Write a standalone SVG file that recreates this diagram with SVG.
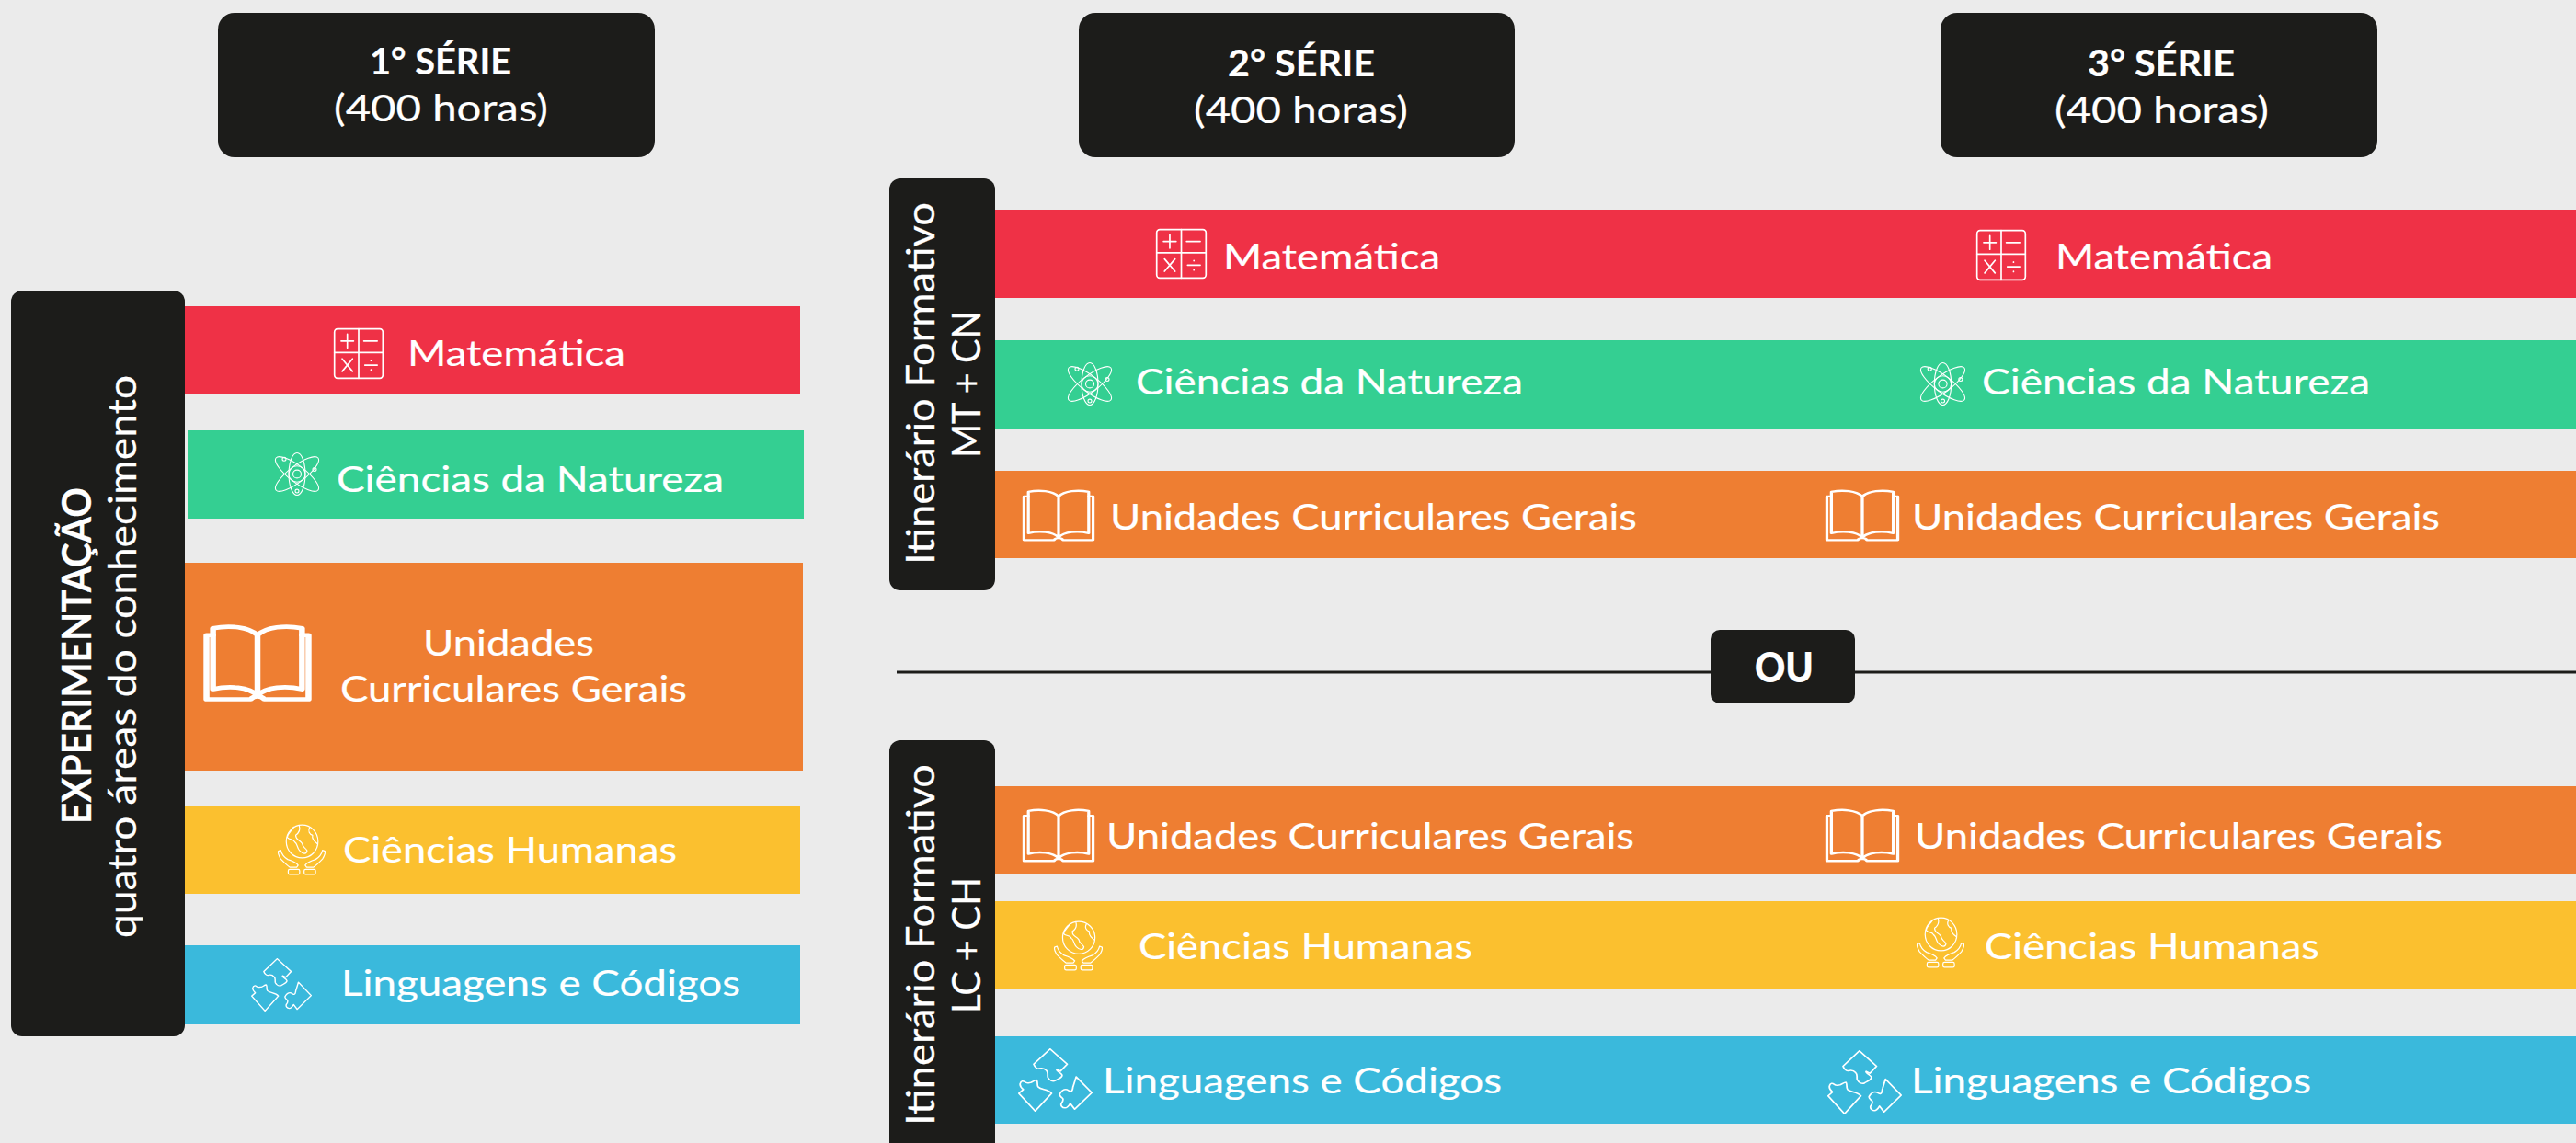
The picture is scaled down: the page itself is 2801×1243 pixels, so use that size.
<svg xmlns="http://www.w3.org/2000/svg" xmlns:xlink="http://www.w3.org/1999/xlink" width="2801" height="1243" viewBox="0 0 2801 1243">
<style>
.bg{fill:#ebebeb}
.dark{fill:#1c1c1a}
.red{fill:#ef3146}.green{fill:#34cf92}.orange{fill:#ee7e32}.yellow{fill:#fbc02f}.blue{fill:#3ab9dc}
text{font-family:"Lato","Noto Sans","Liberation Sans",sans-serif;fill:#fff;font-size:38px;stroke:#fff;stroke-width:.2px}
.hd{font-size:40px}
.b{font-weight:700}
.v{font-size:43px}
.ou{font-size:45px;font-weight:900}
.ic{fill:none;stroke:#fff;stroke-linejoin:round;stroke-linecap:round}
.ic *{vector-effect:non-scaling-stroke}
.s2{stroke-width:2.2px}.s3{stroke-width:3px}.s4{stroke-width:4px}.s6{stroke-width:5.5px}
.sep{stroke:#1c1c1a;stroke-width:3px}
</style>
<defs>
<symbol id="calc" viewBox="0 0 100 100" preserveAspectRatio="none">
<rect x="3" y="3" width="94" height="94" rx="6"/>
<path d="M50 3V97M3 48H97M16 26H40M28 13V39M60 26H86M18 60L38 84M38 60L18 84M62 72H86"/>
<path d="M74 63v.5M74 81v.5"/>
</symbol>
<symbol id="atom" viewBox="0 0 100 100" preserveAspectRatio="none">
<ellipse cx="50" cy="50" rx="18" ry="47"/>
<ellipse cx="50" cy="50" rx="18" ry="58" transform="rotate(52 50 50)"/>
<ellipse cx="50" cy="50" rx="18" ry="58" transform="rotate(-52 50 50)"/>
<circle cx="50" cy="50" r="9"/><circle cx="50" cy="50" r="18"/>
<circle cx="22" cy="17" r="4"/><circle cx="88" cy="40" r="4"/><circle cx="50" cy="88" r="4"/>
</symbol>
<symbol id="book" viewBox="0 0 100 100" preserveAspectRatio="none">
<path d="M50 14C42 3 24 1 9 5V84C24 79 42 81 50 92C58 81 76 79 91 84V5C76 1 58 3 50 14ZM50 14V92"/>
<path d="M9 14H3V97H44C46 92 54 92 56 97H97V14H91"/>
</symbol>
<symbol id="globe" viewBox="0 0 100 100" preserveAspectRatio="none">
<circle cx="51" cy="34" r="32"/>
<path d="M34 6C30 14 22 18 21 26C26 32 34 28 36 35C42 38 40 46 46 52C52 58 60 60 61 52C57 45 52 46 51 38C46 30 38 32 38 22C44 18 48 12 45 3M66 7C62 14 66 20 72 22C70 30 76 34 81 38"/>
<path d="M3 53L8 51C10 60 14 64 22 69C32 72 38 74 43 80L40 84H26C20 80 14 74 8 68C4 62 2 57 3 53ZM97 53L92 51C90 60 86 64 78 69C68 72 62 74 57 80L60 84H74C80 80 86 74 92 68C96 62 98 57 97 53Z"/>
<rect x="23" y="88" width="23" height="10" rx="3"/><rect x="55" y="88" width="23" height="10" rx="3"/>
</symbol>
<symbol id="puzzle" viewBox="0 0 100 100" preserveAspectRatio="none">
<path d="M43 1L66 25L57 36L52 33C50 36 58 38 59 42C60 46 54 48 50 51C46 53 42 50 40 46C39 42 41 38 38 35C35 31 31 31 28 32C25 33 22 28 21 25Z"/>
<path d="M23 99L1 71L7 65C4 62 2 58 3 55C4 51 7 51 9 53C12 56 15 54 17 54C20 53 22 50 25 50C27 54 25 58 27 61C31 66 40 64 45 71Z"/>
<path d="M78 45L99 70L76 96L70 87C68 91 66 94 63 94C59 94 57 90 58 87C60 84 61 81 60 79C57 76 55 74 56 72C58 68 61 65 64 65C67 65 69 68 71 68C74 67 73 62 74 60Z"/>
</symbol>
</defs>
<rect class="bg" width="2801" height="1243"/>
<g id="connectors"><line class="sep" x1="975" y1="731" x2="2801" y2="731"/></g>

<g id="header-1"><rect class="dark" x="237" y="14" width="475" height="157" rx="18"/>
<text class="hd b" x="402" y="81" textLength="154" lengthAdjust="spacingAndGlyphs">1° SÉRIE</text>
<text class="hd" x="363" y="132" textLength="233" lengthAdjust="spacingAndGlyphs">(400 horas)</text></g>
<g id="header-2"><rect class="dark" x="1173" y="14" width="474" height="157" rx="18"/>
<text class="hd b" x="1335" y="83" textLength="160" lengthAdjust="spacingAndGlyphs">2° SÉRIE</text>
<text class="hd" x="1298" y="134" textLength="233" lengthAdjust="spacingAndGlyphs">(400 horas)</text></g>
<g id="header-3"><rect class="dark" x="2110" y="14" width="475" height="157" rx="18"/>
<text class="hd b" x="2270" y="83" textLength="160" lengthAdjust="spacingAndGlyphs">3° SÉRIE</text>
<text class="hd" x="2234" y="134" textLength="233" lengthAdjust="spacingAndGlyphs">(400 horas)</text></g>

<g id="s1-matematica"><rect class="red" x="195" y="333" width="675" height="96"/>
<use href="#calc" class="ic s3" x="362" y="356" width="56" height="57"/>
<text x="443" y="398" textLength="237" lengthAdjust="spacingAndGlyphs">Matemática</text></g>
<g id="s1-natureza"><rect class="green" x="204" y="468" width="670" height="96"/>
<use href="#atom" class="ic s2" x="298" y="491" width="50" height="49"/>
<text x="366" y="535" textLength="421" lengthAdjust="spacingAndGlyphs">Ciências da Natureza</text></g>
<g id="s1-unidades"><rect class="orange" x="195" y="612" width="678" height="226"/>
<use href="#book" class="ic s6" x="221" y="679" width="118" height="84"/>
<text x="460" y="713" textLength="186" lengthAdjust="spacingAndGlyphs">Unidades</text>
<text x="370" y="763" textLength="377" lengthAdjust="spacingAndGlyphs">Curriculares Gerais</text></g>
<g id="s1-humanas"><rect class="yellow" x="195" y="876" width="675" height="96"/>
<use href="#globe" class="ic s2" x="301" y="896" width="54" height="56"/>
<text x="373" y="938" textLength="363" lengthAdjust="spacingAndGlyphs">Ciências Humanas</text></g>
<g id="s1-linguagens"><rect class="blue" x="195" y="1028" width="675" height="86"/>
<use href="#puzzle" class="ic s2" x="273" y="1042" width="66" height="58"/>
<text x="371" y="1083" textLength="434" lengthAdjust="spacingAndGlyphs">Linguagens e Códigos</text></g>
<g id="panel-experimentacao"><rect class="dark" x="12" y="316" width="189" height="811" rx="12"/>
<text class="v b" transform="translate(99 896) rotate(-90)" textLength="366" lengthAdjust="spacingAndGlyphs">EXPERIMENTAÇÃO</text>
<text class="v" transform="translate(148 1020) rotate(-90)" textLength="612" lengthAdjust="spacingAndGlyphs">quatro áreas do conhecimento</text></g>

<g id="mt-matematica"><rect class="red" x="1075" y="228" width="1726" height="96"/>
<use href="#calc" class="ic s3" x="1256" y="248" width="57" height="56"/>
<text x="1330" y="293" textLength="236" lengthAdjust="spacingAndGlyphs">Matemática</text>
<use href="#calc" class="ic s3" x="2148" y="249" width="56" height="57"/>
<text x="2235" y="293" textLength="236" lengthAdjust="spacingAndGlyphs">Matemática</text></g>
<g id="mt-natureza"><rect class="green" x="1075" y="370" width="1726" height="96"/>
<use href="#atom" class="ic s2" x="1160" y="393" width="50" height="49"/>
<text x="1235" y="429" textLength="421" lengthAdjust="spacingAndGlyphs">Ciências da Natureza</text>
<use href="#atom" class="ic s2" x="2087" y="393" width="51" height="49"/>
<text x="2155" y="429" textLength="422" lengthAdjust="spacingAndGlyphs">Ciências da Natureza</text></g>
<g id="mt-unidades"><rect class="orange" x="1075" y="512" width="1726" height="95"/>
<use href="#book" class="ic s4" x="1111" y="532" width="80" height="57"/>
<text x="1207" y="576" textLength="573" lengthAdjust="spacingAndGlyphs">Unidades Curriculares Gerais</text>
<use href="#book" class="ic s4" x="1984" y="532" width="82" height="57"/>
<text x="2079" y="576" textLength="574" lengthAdjust="spacingAndGlyphs">Unidades Curriculares Gerais</text></g>
<g id="panel-mt-cn"><rect class="dark" x="967" y="194" width="115" height="448" rx="12"/>
<text class="v" transform="translate(1016 614) rotate(-90)" textLength="394" lengthAdjust="spacingAndGlyphs">Itinerário Formativo</text>
<text class="v" transform="translate(1066 498) rotate(-90)" textLength="160" lengthAdjust="spacingAndGlyphs">MT + CN</text></g>

<g id="ou"><rect class="dark" x="1860" y="685" width="157" height="80" rx="10"/>
<text class="ou" x="1908" y="742" textLength="64" lengthAdjust="spacingAndGlyphs">OU</text></g>

<g id="lc-unidades"><rect class="orange" x="1075" y="855" width="1726" height="95"/>
<use href="#book" class="ic s4" x="1111" y="879" width="80" height="59"/>
<text x="1203" y="923" textLength="574" lengthAdjust="spacingAndGlyphs">Unidades Curriculares Gerais</text>
<use href="#book" class="ic s4" x="1984" y="879" width="82" height="59"/>
<text x="2082" y="923" textLength="574" lengthAdjust="spacingAndGlyphs">Unidades Curriculares Gerais</text></g>
<g id="lc-humanas"><rect class="yellow" x="1075" y="980" width="1726" height="96"/>
<use href="#globe" class="ic s2" x="1145" y="1001" width="55" height="55"/>
<text x="1238" y="1043" textLength="363" lengthAdjust="spacingAndGlyphs">Ciências Humanas</text>
<use href="#globe" class="ic s2" x="2083" y="997" width="54" height="56"/>
<text x="2158" y="1043" textLength="364" lengthAdjust="spacingAndGlyphs">Ciências Humanas</text></g>
<g id="lc-linguagens"><rect class="blue" x="1075" y="1127" width="1726" height="95"/>
<use href="#puzzle" class="ic s2" x="1107" y="1140" width="81" height="69"/>
<text x="1199" y="1189" textLength="434" lengthAdjust="spacingAndGlyphs">Linguagens e Códigos</text>
<use href="#puzzle" class="ic s2" x="1987" y="1142" width="81" height="70"/>
<text x="2078" y="1189" textLength="435" lengthAdjust="spacingAndGlyphs">Linguagens e Códigos</text></g>
<g id="panel-lc-ch"><path class="dark" d="M967 1243V817a12 12 0 0 1 12-12H1070a12 12 0 0 1 12 12V1243Z"/>
<text class="v" transform="translate(1016 1224) rotate(-90)" textLength="393" lengthAdjust="spacingAndGlyphs">Itinerário Formativo</text>
<text class="v" transform="translate(1066 1102) rotate(-90)" textLength="148" lengthAdjust="spacingAndGlyphs">LC + CH</text></g>
</svg>
